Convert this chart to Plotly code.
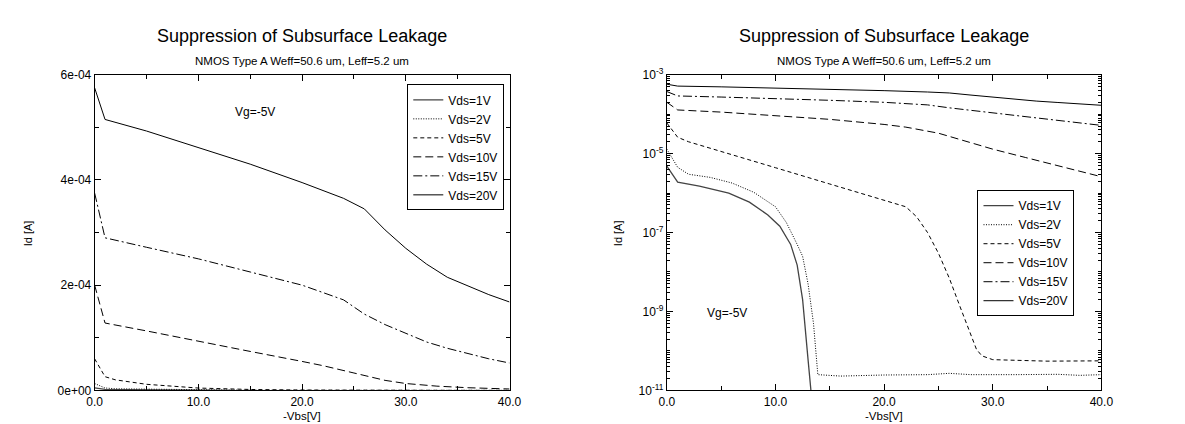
import plotly.graph_objects as go

# ---------------- data ----------------
vbs_1v = [0, 1, 3, 5.7, 7.6, 9.3, 10.4, 11.4, 12.0, 12.5, 13.0, 13.5]
id_1v = [4.8e-6, 1.9e-6, 1.5e-6, 1.0e-6, 5.9e-7, 2.8e-7, 1.45e-7, 5e-8, 1.5e-8, 2e-9, 6e-11, 2e-12]

vbs_2v = [0, 1, 2, 4, 6, 8, 10, 11, 12, 12.5, 13.0, 13.5, 13.9, 16, 20, 24, 26, 28, 32, 36, 38, 40]
id_2v = [1.3e-5, 4.5e-6, 3.0e-6, 2.5e-6, 1.8e-6, 1.05e-6, 4.5e-7, 1.8e-7, 5e-8, 2.5e-8, 5e-9, 5e-10,
         2.5e-11, 2.3e-11, 2.45e-11, 2.5e-11, 2.7e-11, 2.5e-11, 2.5e-11, 2.55e-11, 2.4e-11, 2.5e-11]

vbs_5v = [0, 1, 2, 5, 10, 15, 20, 22, 23, 24, 25, 26, 27, 28, 28.5, 29, 30, 35, 40]
id_5v = [6.0e-5, 2.6e-5, 2.0e-5, 1.15e-5, 4.4e-6, 1.7e-6, 6.5e-7, 4.5e-7, 2.5e-7, 1e-7, 3e-8,
         7e-9, 1.3e-9, 2.5e-10, 1.1e-10, 7.5e-11, 6e-11, 5.5e-11, 5.6e-11]

vbs_10v = [0, 1, 5, 10, 15, 20, 22, 25, 28, 30, 33, 36, 40]
id_10v = [2.0e-4, 1.28e-4, 1.13e-4, 0.93e-4, 0.74e-4, 0.55e-4, 0.47e-4, 0.33e-4, 1.9e-5, 1.3e-5,
          8e-6, 5e-6, 2.6e-6]

vbs_15v = [0, 1, 5, 10, 15, 20, 24, 26, 28, 30, 32, 34, 36, 38, 40]
id_15v = [3.75e-4, 2.9e-4, 2.72e-4, 2.5e-4, 2.25e-4, 2.0e-4, 1.72e-4, 1.45e-4, 1.25e-4, 1.08e-4,
          0.92e-4, 0.8e-4, 0.7e-4, 0.6e-4, 0.52e-4]

vbs_20v = [0, 1, 5, 10, 15, 20, 24, 26, 28, 30, 32, 34, 36, 38, 40]
id_20v = [5.75e-4, 5.15e-4, 4.93e-4, 4.62e-4, 4.3e-4, 3.95e-4, 3.65e-4, 3.45e-4, 3.05e-4, 2.7e-4,
          2.4e-4, 2.15e-4, 1.98e-4, 1.82e-4, 1.68e-4]

series_names = ["Vds=1V", "Vds=2V", "Vds=5V", "Vds=10V", "Vds=15V", "Vds=20V"]
series_x = [vbs_1v, vbs_2v, vbs_5v, vbs_10v, vbs_15v, vbs_20v]
series_y = [id_1v, id_2v, id_5v, id_10v, id_15v, id_20v]

x_tick_vals = [0, 10, 20, 30, 40]
x_tick_text = ["0.0", "10.0", "20.0", "30.0", "40.0"]
lin_tick_vals = [0, 2e-4, 4e-4, 6e-4]
lin_tick_text = ["0e+00", "2e-04", "4e-04", "6e-04"]
log_label_decades = [-11, -9, -7, -5, -3]
log_decades = [-11, -10, -9, -8, -7, -6, -5, -4, -3]

title_text = "Suppression of Subsurface Leakage"
subtitle_text = "NMOS Type A Weff=50.6 um, Leff=5.2 um"

# ---------------- styling ----------------
styles = [
    dict(color="#444444", width=1.3, dash="solid"),
    dict(color="black", width=1, dash="1px,1.5px"),
    dict(color="black", width=1, dash="4px,3px"),
    dict(color="black", width=1, dash="8px,4px"),
    dict(color="black", width=1, dash="9px,3px,2px,3px"),
    dict(color="black", width=1, dash="solid"),
]

FONT = "Liberation Sans, Arial, sans-serif"
W, H = 1185, 424


def px_x(p):
    return p / W


def px_y(p):
    return 1 - p / H


fig = go.Figure()
for name, xs, ys, st in zip(series_names, series_x, series_y, styles):
    fig.add_trace(go.Scatter(x=xs, y=ys, mode="lines", name=name, line=st,
                             xaxis="x", yaxis="y", legend="legend"))
for name, xs, ys, st in zip(series_names, series_x, series_y, styles):
    fig.add_trace(go.Scatter(x=xs, y=ys, mode="lines", name=name, line=st,
                             xaxis="x2", yaxis="y2", legend="legend2"))

L0, L1 = 80, 502
R0, R1 = 662, 1104
T0, B0 = 60, 388

common_axis = dict(showline=True, linecolor="black", linewidth=1, mirror="allticks",
                   ticks="inside", ticklen=6, tickcolor="black", showgrid=False, zeroline=False,
                   tickfont=dict(family=FONT, size=12, color="black"))

minor_log = []
for d in log_decades[:-1]:
    if d not in log_label_decades:
        minor_log.append(10 ** d)
    for m in range(2, 10):
        minor_log.append(m * 10 ** d)

legend_style = dict(xanchor="left", yanchor="top", bordercolor="black", borderwidth=1,
                    bgcolor="white", font=dict(family=FONT, size=12, color="black"),
                    tracegroupgap=0, itemwidth=30)

fig.update_layout(
    width=W, height=H,
    margin=dict(l=0, r=0, t=0, b=0),
    paper_bgcolor="white", plot_bgcolor="white",
    font=dict(family=FONT, size=12, color="black"),
    xaxis=dict(domain=[px_x(L0), px_x(L1)], range=[0, 40], tickvals=x_tick_vals, ticktext=x_tick_text,
               minor=dict(tickvals=[5, 15, 25, 35], ticks="inside", ticklen=4, tickcolor="black"),
               anchor="y", **common_axis),
    yaxis=dict(domain=[px_y(B0), px_y(T0)], range=[0, 6e-4], tickvals=lin_tick_vals, ticktext=lin_tick_text,
               minor=dict(tickvals=[1e-4, 3e-4, 5e-4], ticks="inside", ticklen=4, tickcolor="black"),
               anchor="x", **common_axis),
    xaxis2=dict(domain=[px_x(R0), px_x(R1)], range=[0, 40], tickvals=x_tick_vals, ticktext=x_tick_text,
                minor=dict(tickvals=[5, 15, 25, 35], ticks="inside", ticklen=4, tickcolor="black"),
                anchor="y2", **common_axis),
    yaxis2=dict(domain=[px_y(B0), px_y(T0)], type="log", range=[-11, -3],
                tickvals=[10 ** d for d in log_label_decades],
                ticktext=["10<sup>%d</sup>" % d for d in log_label_decades],
                minor=dict(tickvals=minor_log, ticks="inside", ticklen=3, tickcolor="black"),
                anchor="x2", **common_axis),
    legend=dict(x=px_x(398), y=px_y(70), **legend_style),
    legend2=dict(x=px_x(978), y=px_y(180), **legend_style),
    showlegend=True,
)

annots = []
for cx in [(L0 + L1) / 2, (R0 + R1) / 2]:
    annots.append(dict(x=px_x(cx), y=px_y(20), xref="paper", yref="paper", text=title_text,
                       showarrow=False, xanchor="center", yanchor="middle",
                       font=dict(family=FONT, size=18, color="black")))
    annots.append(dict(x=px_x(cx), y=px_y(46), xref="paper", yref="paper", text=subtitle_text,
                       showarrow=False, xanchor="center", yanchor="middle",
                       font=dict(family=FONT, size=11.5, color="black")))
    annots.append(dict(x=px_x(cx), y=px_y(415), xref="paper", yref="paper", text="-Vbs[V]",
                       showarrow=False, xanchor="center", yanchor="middle",
                       font=dict(family=FONT, size=11.5, color="black")))
for ax in [12, 612]:
    annots.append(dict(x=px_x(ax), y=px_y(225), xref="paper", yref="paper", text="Id [A]",
                       showarrow=False, xanchor="center", yanchor="middle", textangle=-90,
                       font=dict(family=FONT, size=11, color="black")))
annots.append(dict(x=15.5, y=5.3e-4, xref="x", yref="y", text="Vg=-5V", showarrow=False,
                   font=dict(family=FONT, size=12, color="black")))
annots.append(dict(x=5.5, y=-9.05, xref="x2", yref="y2", text="Vg=-5V", showarrow=False,
                   font=dict(family=FONT, size=12, color="black")))
fig.update_layout(annotations=annots)

fig.write_html("out.html")
